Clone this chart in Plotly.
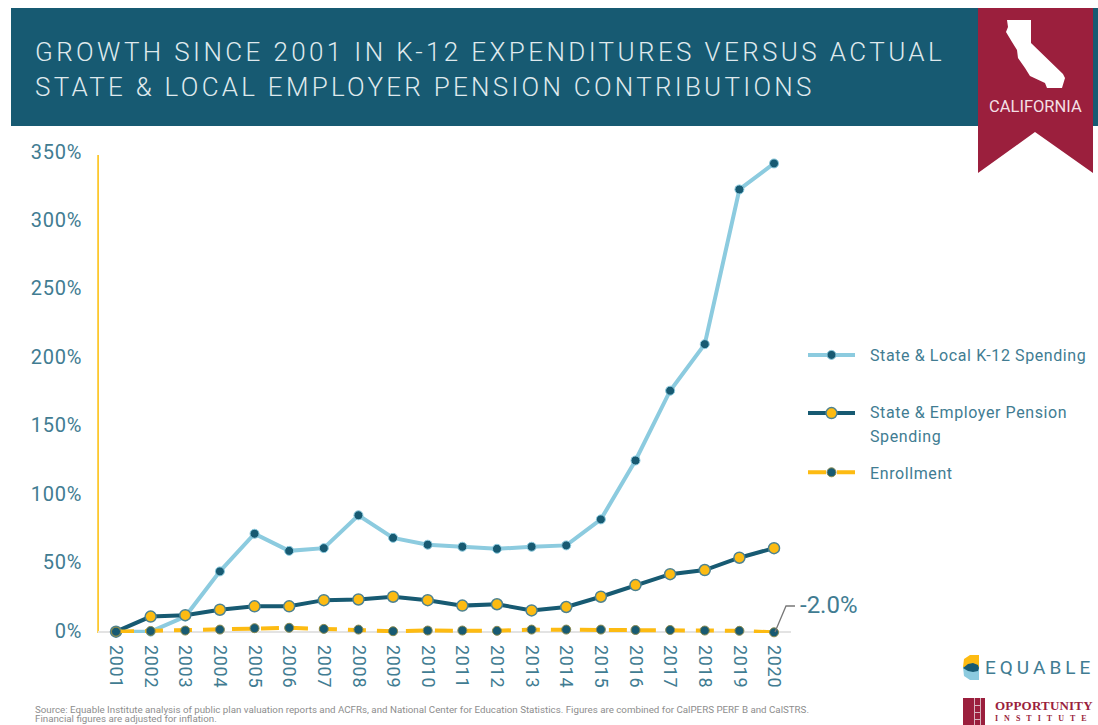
import plotly.graph_objects as go

years = [str(y) for y in range(2001, 2021)]
k12_spending = [0, 0, 11, 44, 71.5, 59, 61, 85, 68.5, 63.5, 62, 60.5, 62, 63, 82, 125, 176, 210, 323, 342]
pension_spending = [0, 11, 12, 16, 18.5, 18.5, 23, 23.5, 25.5, 23, 19, 20, 15.5, 18, 25.5, 34, 42, 45, 54, 61]
enrollment = [0, 0.5, 0.8, 1.5, 2.5, 2.8, 2, 1.5, 0.3, 0.8, 0.8, 0.6, 1.5, 1.5, 1.5, 1.2, 1.2, 0.8, 0.6, -0.5]
y_ticks = [0, 50, 100, 150, 200, 250, 300, 350]
y_tick_labels = ["0%", "50%", "100%", "150%", "200%", "250%", "300%", "350%"]

W, H = 1098, 725
TEAL = "#175a72"
CRIMSON = "#9b1f3d"
LIGHT = "#8ccbdf"
GOLD = "#fdbb12"
TXT = "#417c92"
FONT = "Roboto, sans-serif"

def px(x):
    return x / W

def py(y):
    return 1 - y / H

def path(points, close=True):
    s = "M" + " L".join(f"{px(x):.5f},{py(y):.5f}" for x, y in points)
    return s + (" Z" if close else "")

def shape_poly(points, fill, layer="below"):
    return dict(type="path", xref="paper", yref="paper", path=path(points), fillcolor=fill, line_width=0, layer=layer)

def rect(x0, y0, x1, y1, fill, layer="below"):
    return dict(type="rect", xref="paper", yref="paper", x0=px(x0), x1=px(x1), y0=py(y1), y1=py(y0),
                fillcolor=fill, line_width=0, layer=layer)

def note(text, x, y, size, color=TXT, anchor="left", family=FONT):
    x = x - 2 if anchor == "left" else x
    return dict(text=text, xref="paper", yref="paper", x=px(x), y=py(y), xanchor=anchor, yanchor="middle",
                showarrow=False, align="left", font=dict(size=size, color=color, family=family))

fig = go.Figure()
fig.add_trace(go.Scatter(x=years, y=k12_spending, mode="lines+markers", name="State & Local K-12 Spending",
                         line=dict(color=LIGHT, width=4), marker=dict(size=9, color=TEAL, line=dict(color=LIGHT, width=1)),
                         cliponaxis=False, legendgroup="a"))
fig.add_trace(go.Scatter(x=years, y=pension_spending, mode="lines+markers", name="State & Employer Pension<br>Spending",
                         line=dict(color=TEAL, width=4), marker=dict(size=11, color=GOLD, line=dict(color="#4d8291", width=1.5)),
                         cliponaxis=False, legendgroup="b"))
fig.add_trace(go.Scatter(x=years, y=enrollment, mode="lines+markers", name="Enrollment",
                         line=dict(color=GOLD, width=4, dash="18px,11px"), marker=dict(size=9, color=TEAL, line=dict(color="#8a8a50", width=1)),
                         cliponaxis=False, legendgroup="c"))

california = [(1007, 20), (1031, 20), (1031, 43), (1063, 74), (1065, 78), (1062, 88), (1047, 88), (1045, 83),
              (1030, 76), (1025, 68), (1018, 58), (1017, 50), (1012, 42), (1006, 32), (1008, 27)]

shapes = [
    rect(11, 8, 1098, 126, TEAL),
    shape_poly([(978, 8), (1093, 8), (1093, 173), (1035, 132), (978, 173)], CRIMSON),
    shape_poly(california, "#ffffff"),
    rect(97.2, 155, 99, 633, "#fdc82f"),
    dict(type="path", xref="paper", yref="paper", path=path([(775, 632), (786, 606), (795, 606)], close=False),
         line=dict(color="#777777", width=1.3), layer="above"),
    # Equable logo
    dict(type="path", xref="paper", yref="paper",
         path=path([(979, 655), (970, 655), (964, 659), (963, 667), (979, 667)]), fillcolor=GOLD, line_width=0),
    dict(type="path", xref="paper", yref="paper",
         path=path([(979, 680), (970, 680), (964, 676), (963, 667), (979, 667)]), fillcolor=LIGHT, line_width=0),
    shape_poly([(963, 668), (968, 664), (973, 663), (978, 665), (979, 668), (978, 671), (973, 672), (968, 671)], TEAL, "above"),
    # Opportunity Institute logo
    rect(963, 698, 985, 725, CRIMSON),
    rect(974, 698, 975, 725, "#d9b3bd", "above"),
    rect(980, 698, 981, 725, "#d9b3bd", "above"),
    rect(974, 705, 981, 706, "#d9b3bd", "above"),
    rect(974, 712, 981, 713, "#d9b3bd", "above"),
    rect(974, 719, 981, 720, "#d9b3bd", "above"),
]

annotations = [
    note("GROWTH SINCE 2001 IN K-12 EXPENDITURES VERSUS ACTUAL", 35, 52, 26, "#dfe9ed"),
    note("STATE &amp; LOCAL EMPLOYER PENSION CONTRIBUTIONS", 35, 87, 26, "#dfe9ed"),
    note("CALIFORNIA", 1035.5, 106, 16.5, "#f3dfe4", "center"),
    note("-2.0%", 800, 605, 24),
    note("EQUABLE", 985, 667, 19),
    note("<b>OPPORTUNITY</b>", 995, 705.5, 13, CRIMSON, family="Liberation Serif"),
    note("<b>INSTITUTE</b>", 995, 718.5, 8, CRIMSON, family="Liberation Serif"),
    note("Source: Equable Institute analysis of public plan valuation reports and ACFRs, and National Center for Education Statistics. Figures are combined for CalPERS PERF B and CalSTRS.",
         35, 709, 9.75, "#8d8d8d"),
    note("Financial figures are adjusted for inflation.", 35, 718.5, 9.75, "#8d8d8d"),
]

fig.update_layout(
    width=W, height=H, autosize=False,
    margin=dict(l=0, r=0, t=0, b=0, pad=0),
    paper_bgcolor="white", plot_bgcolor="white",
    font=dict(family=FONT, color=TXT),
    shapes=shapes, annotations=annotations,
    legend=dict(x=px(803), y=py(342), xanchor="left", yanchor="top", font=dict(size=16, color=TXT),
                itemwidth=47, tracegroupgap=24, bgcolor="rgba(0,0,0,0)"),
    xaxis=dict(domain=[px(98), px(791)], type="category", range=[-0.52, 19.49], tickangle=90, showgrid=False, automargin=False,
               showline=False, zeroline=False, ticks="", tickfont=dict(size=18, color=TXT), ticklabelstandoff=11),
    yaxis=dict(domain=[py(633), py(152.5)], range=[-1, 350], tickvals=y_ticks, ticktext=y_tick_labels, automargin=False,
               showgrid=False, zeroline=True, zerolinecolor="#e3e3e3", zerolinewidth=2, showline=False, ticks="",
               tickfont=dict(size=20, color=TXT), ticklabelstandoff=15),
)

post = """
document.body.style.margin='0';
var st=document.createElement('style');
st.textContent='body{margin:0;overflow:hidden}';
document.head.appendChild(st);
document.querySelectorAll('.annotation-text').forEach(function(t){
  var s=t.textContent;
  if(s.indexOf('GROWTH')===0){t.style.letterSpacing='3.38px';t.style.fontWeight='300';}
  if(s.indexOf('STATE')===0){t.style.letterSpacing='3.26px';t.style.fontWeight='300';}
  if(s==='EQUABLE'){t.style.letterSpacing='4px';}
  if(s==='OPPORTUNITY'){t.style.letterSpacing='0.2px';}
  if(s==='INSTITUTE'){t.style.letterSpacing='6px';}
});
document.querySelectorAll('.legend [clip-path]').forEach(function(e){ e.removeAttribute('clip-path'); });
var shifts=[-4,5,-3], swatch=[0,-9,0], second=[0,3,0];
document.querySelectorAll('.legend .traces').forEach(function(g,i){
  var m=/translate\\(([-\\d.]+),\\s*([-\\d.]+)\\)/.exec(g.getAttribute('transform'));
  g.setAttribute('transform','translate('+m[1]+','+(parseFloat(m[2])+shifts[i])+')');
  g.querySelectorAll('.legendlines, .legendsymbols').forEach(function(e){ e.setAttribute('transform','translate(0,'+swatch[i]+')'); });
  var t=g.querySelector('.legendtext');
  t.style.letterSpacing='0.6px';
  t.setAttribute('x', parseFloat(t.getAttribute('x'))+10);
  t.querySelectorAll('tspan').forEach(function(s,j){
    if(s.getAttribute('x')) s.setAttribute('x', parseFloat(s.getAttribute('x'))+10);
    if(j>0 && s.getAttribute('y')) s.setAttribute('y', parseFloat(s.getAttribute('y'))+second[i]);
  });
});
document.querySelectorAll('.xtick text, .ytick text').forEach(function(t){ t.style.letterSpacing='0.7px'; });
document.querySelectorAll('.ytick').forEach(function(g){ g.setAttribute('transform','translate(0,-1)'); });
"""
fig.write_html("out.html", post_script=post, config=dict(displayModeBar=False))
